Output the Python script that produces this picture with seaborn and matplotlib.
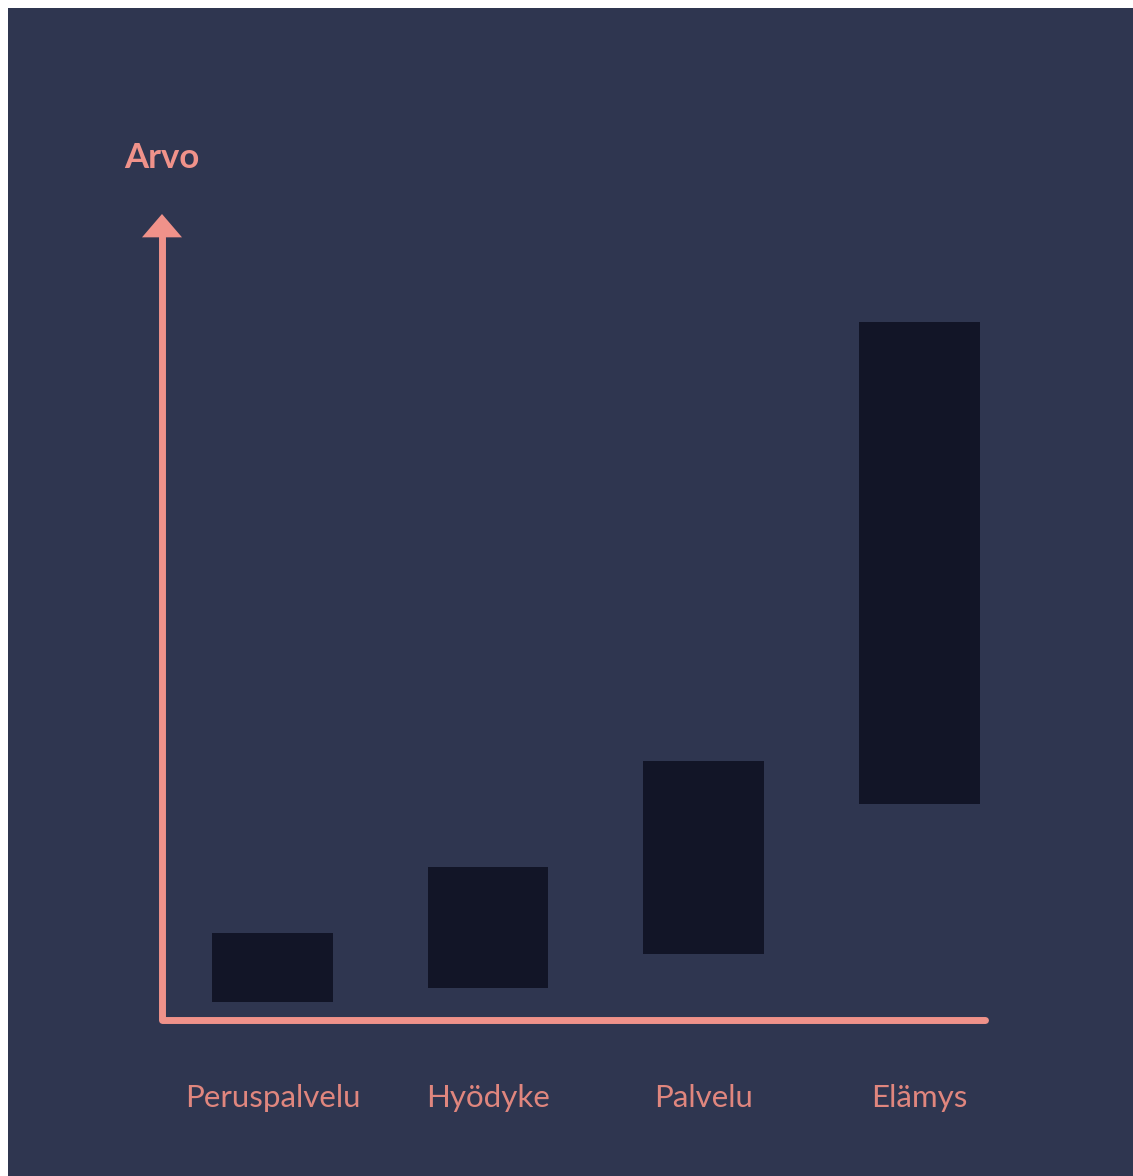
import pandas as pd
import numpy as np
import matplotlib.pyplot as plt
import seaborn as sns

# Data: floating bars (bottom / top) on a 0-100 "Arvo" scale
stages = ["Peruspalvelu", "Hyödyke", "Palvelu", "Elämys"]
bar_bottom = [2.2, 4.0, 8.2, 26.8]
bar_top = [10.8, 19.0, 32.1, 86.6]
axis_label = "Arvo"

df = pd.DataFrame({"Stage": stages, "Bottom": bar_bottom, "Top": bar_top})
df["Span"] = df["Top"] - df["Bottom"]

navy = "#2f3650"
bar_color = "#121527"
salmon = "#f0928a"
label_color = "#e0867e"

sns.set_theme(style="white")
plt.rcParams["font.family"] = ["Lato", "DejaVu Sans"]

fig = plt.figure(figsize=(11.33, 11.76), dpi=100, facecolor="white")

# Dark panel behind everything (white strip on top and left)
bg = fig.add_axes([8 / 1133, 0, 1125 / 1133, 1168 / 1176])
bg.set_facecolor(navy)
bg.set_xticks([])
bg.set_yticks([])
for s in bg.spines.values():
    s.set_visible(False)
bg.set_zorder(0)

ax = fig.add_axes([162 / 1133, 156 / 1176, 823 / 1133, 806 / 1176])
ax.set_zorder(1)
ax.patch.set_alpha(0)

sns.barplot(
    ax=ax, data=df, x="Stage", y="Span", bottom=df["Bottom"].values,
    color=bar_color, saturation=1, width=0.56, errorbar=None, linewidth=0,
)

x0, x1 = -0.512, 3.304
ax.set_xlim(x0, x1)
ax.set_ylim(0, 100)
for s in ax.spines.values():
    s.set_visible(False)
ax.set_yticks([])
ax.set_xlabel("")
ax.set_ylabel("")
ax.tick_params(axis="x", length=0, pad=46, labelsize=22.5, labelcolor=label_color)
for lbl in ax.get_xticklabels():
    lbl.set_fontweight("normal")
    lbl.set_color(label_color)

# L-shaped axes with arrow on the value axis
ax.plot([x0, x0, x1], [97.6, 0, 0], color=salmon, lw=5, solid_capstyle="round",
        solid_joinstyle="round", clip_on=False, zorder=3)
ax.annotate("", xy=(x0, 100), xytext=(x0, 97),
            arrowprops=dict(arrowstyle="-|>,head_length=1.4,head_width=1.2",
                            facecolor=salmon, edgecolor="none", lw=0,
                            shrinkA=0, shrinkB=0),
            annotation_clip=False, zorder=3)

ax.text(x0, 107.0, axis_label, ha="center", va="center", fontsize=25,
        fontweight="bold", color=salmon, clip_on=False)

fig.savefig("out.png", dpi=100, facecolor="white")
